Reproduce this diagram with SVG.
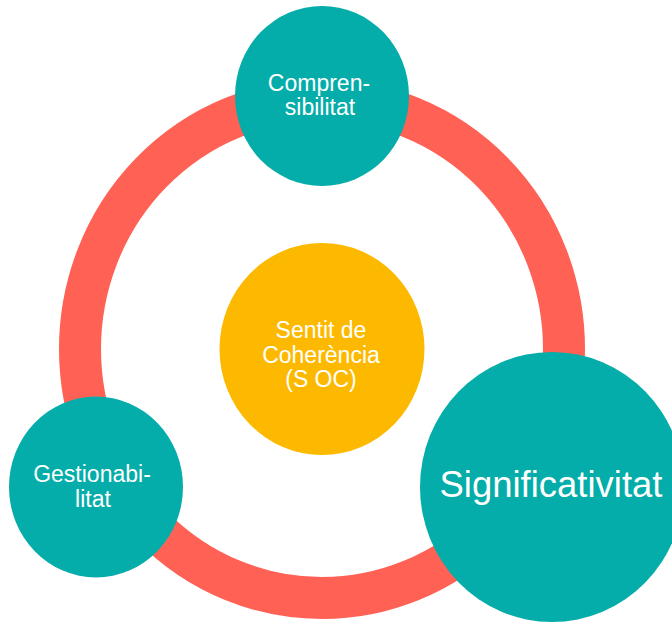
<svg xmlns="http://www.w3.org/2000/svg" width="672" height="622" viewBox="0 0 672 622">
<style>
.teal{fill:#04ADA9}
.lbl{font-family:"Liberation Sans",Arial,sans-serif;font-size:23px;fill:#ffffff;text-anchor:middle}
.big{font-family:"Liberation Sans",Arial,sans-serif;font-size:36px;fill:#ffffff;text-anchor:middle}
</style>
<rect width="672" height="622" fill="#ffffff"/>
<g id="connectors">
<ellipse cx="322" cy="349" rx="242" ry="249" fill="none" stroke="#FF6155" stroke-width="42"/>
</g>
<g id="soc">
<ellipse cx="322" cy="349" rx="102.5" ry="106" fill="#FDB900"/>
<text class="lbl" x="321" y="338">Sentit de</text>
<text class="lbl" x="321" y="363">Coherència</text>
<text class="lbl" x="321" y="387">(S OC)</text>
</g>
<g id="comprensibilitat">
<ellipse class="teal" cx="322" cy="96" rx="87" ry="90"/>
<text class="lbl" x="319" y="91">Compren-</text>
<text class="lbl" x="320" y="115">sibilitat</text>
</g>
<g id="gestionabilitat">
<ellipse class="teal" cx="96" cy="487" rx="87" ry="90.5"/>
<text class="lbl" x="92" y="482">Gestionabi-</text>
<text class="lbl" x="93" y="507">litat</text>
</g>
<g id="significativitat">
<ellipse class="teal" cx="552" cy="487" rx="132" ry="135"/>
<text class="big" x="551" y="497" textLength="223" lengthAdjust="spacingAndGlyphs">Significativitat</text>
</g>
</svg>
